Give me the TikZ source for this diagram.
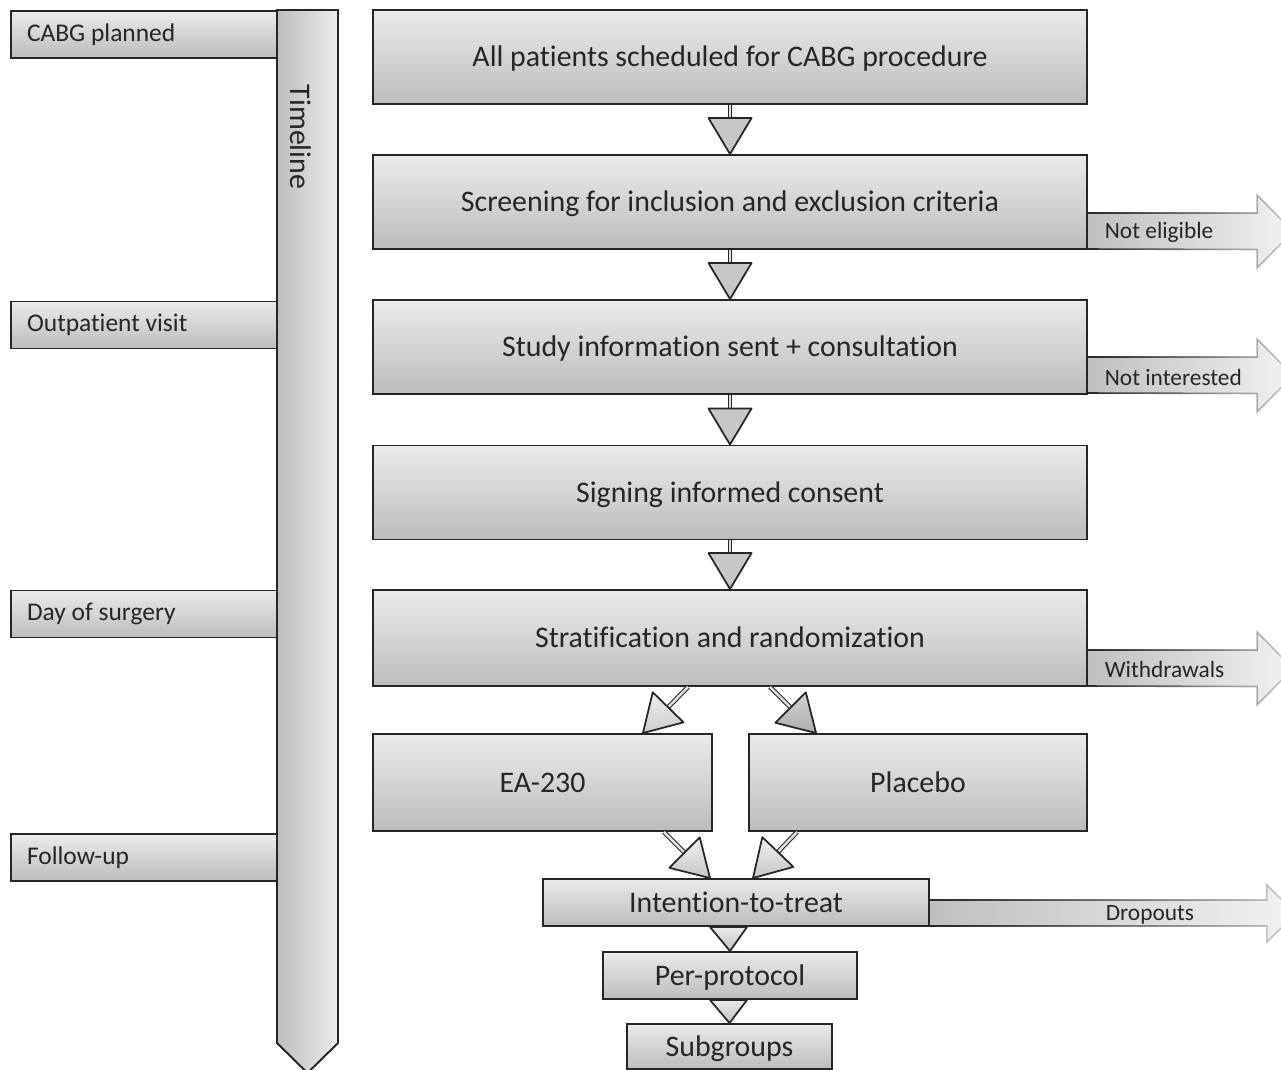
\documentclass[tikz,border=0pt]{standalone}
\usepackage{fontspec}
\setmainfont{Carlito}[Ligatures=NoCommon]
\usetikzlibrary{calc,fadings}
\tikzfading[name=fadeR, left color=transparent!0, right color=transparent!80]
\begin{document}
\begin{tikzpicture}[x=0.02cm,y=-0.02cm,
  line width=1.1pt,
  mainbox/.style={draw=black!85, top color=black!8, bottom color=black!26, minimum width=14.28cm, minimum height=1.88cm, inner sep=0pt, text=black!85, font=\fontsize{17pt}{20pt}\selectfont, text height=14pt, text depth=3pt},
  lblbox/.style={draw=black!85, top color=black!8, bottom color=black!26, text width=4.68cm, inner xsep=0.32cm, inner ysep=0pt, minimum height=0.94cm, align=flush left, text=black!85, font=\fontsize{14.5pt}{17pt}\selectfont},
  sidearrow/.style={draw=black!85, fill=black!25, path fading=fadeR, line width=0.9pt},
  sidetext/.style={text=black!85, font=\fontsize{13.3pt}{15pt}\selectfont, inner sep=0pt},
  stem/.style={draw=black!85, double=black!12, double distance=0.05cm, line width=0.6pt},
  head/.style={draw=black!85, line join=round, line width=1pt},
]
\useasboundingbox (0,0) rectangle (1281,1069);
\begin{scope}
\clip (0,0) rectangle (1281,1069);

% timeline
\draw[draw=black!85, left color=black!26, right color=black!7] (277,10) -- (338,10) -- (338,1043) -- (307.5,1073) -- (277,1043) -- cycle;
\node[rotate=-90, text=black!85, font=\fontsize{17pt}{20pt}\selectfont] (tl) at (301,137) {Timeline};

% timeline labels
\node[lblbox] (l1) at (144,34.5) {CABG planned};
\node[lblbox] (l2) at (144,325) {Outpatient visit};
\node[lblbox] (l3) at (144,614) {Day of surgery};
\node[lblbox] (l4) at (144,857.5) {Follow-up};

% side arrows
\draw[sidearrow] (1087,249) coordinate (sa1) -- ++(0,-36) -- ++(170,0) -- ++(0,-18) -- ++(36,36.5) -- ++(-36,36.5) -- ++(0,-18.5) -- cycle;
\draw[sidearrow] (1087,393) coordinate (sa2) -- ++(0,-36) -- ++(170,0) -- ++(0,-18) -- ++(36,36.5) -- ++(-36,36.5) -- ++(0,-18.5) -- cycle;
\draw[sidearrow] (1087,686) coordinate (sa3) -- ++(0,-36) -- ++(170,0) -- ++(0,-18) -- ++(36,36.5) -- ++(-36,36.5) -- ++(0,-18.5) -- cycle;
\draw[sidearrow] (929,926) coordinate (sa4) -- ++(0,-26) -- ++(338,0) -- ++(0,-15) -- ++(29,28.5) -- ++(-29,28.5) -- ++(0,-16) -- cycle;

% main boxes
\node[mainbox] (all) at (730,57) {All patients scheduled for CABG procedure};
\node[mainbox] (scr) at (730,202) {Screening for inclusion and exclusion criteria};
\node[mainbox] (inf) at (730,347) {Study information sent + consultation};
\node[mainbox] (sig) at (730,492.5) {Signing informed consent};
\node[mainbox, minimum height=1.92cm] (str) at (730,638) {Stratification and randomization};
\node[mainbox, minimum width=6.78cm, minimum height=1.94cm] (ea) at (542.5,782.5) {EA-230};
\node[mainbox, minimum width=6.76cm, minimum height=1.94cm] (pla) at (918,782.5) {Placebo};
\node[mainbox, minimum width=7.72cm, minimum height=0.94cm] (itt) at (736,902.5) {Intention-to-treat};
\node[mainbox, minimum width=5.08cm, minimum height=0.94cm] (pp) at (730,975.5) {Per-protocol};
\node[mainbox, minimum width=4.1cm, minimum height=0.9cm] (sub) at (729.5,1046.5) {Subgroups};

% side labels
\node[sidetext, anchor=west] (ne) at ($(scr.south east)+(16,-18)$) {Not eligible};
\node[sidetext, anchor=west] (ni) at ($(inf.south east)+(16,-17)$) {Not interested};
\node[sidetext, anchor=west] (wd) at ($(str.south east)+(16,-17)$) {Withdrawals};
\node[sidetext] (dr) at ($(itt.south east)+(220,-12)$) {Dropouts};

% block arrows
\newcommand\blkarrow[3]{%
  \coordinate (ba-h) at ($(#2)!0.72cm!(#1)$);
  \draw[stem] (#1) -- (ba-h);
  \draw[head,#3] (#2) -- ($(ba-h)!0.43cm!90:(#2)$) -- ($(ba-h)!0.43cm!-90:(#2)$) -- cycle;
}
\blkarrow{all.south}{scr.north}{fill=black!22}
\blkarrow{scr.south}{inf.north}{fill=black!22}
\blkarrow{inf.south}{sig.north}{fill=black!22}
\blkarrow{sig.south}{str.north}{fill=black!22}
\coordinate (d1a) at ($(str.south)+(-42,0)$);
\coordinate (d1b) at ($(ea.north east)+(-70,0)$);
\coordinate (d2a) at ($(str.south)+(40,0)$);
\coordinate (d2b) at ($(pla.north west)+(68,0)$);
\coordinate (d3a) at ($(ea.south east)+(-49,0)$);
\coordinate (d3b) at ($(itt.north)+(-26,0)$);
\coordinate (d4a) at ($(pla.south west)+(49,0)$);
\coordinate (d4b) at ($(itt.north)+(17,0)$);
\blkarrow{d1a}{d1b}{top color=black!6, bottom color=black!20}
\blkarrow{d2a}{d2b}{top color=black!18, bottom color=black!32}
\blkarrow{d3a}{d3b}{top color=black!6, bottom color=black!22}
\blkarrow{d4a}{d4b}{top color=black!6, bottom color=black!22}

\draw[head, top color=black!8, bottom color=black!24] (pp.north) -- ($(pp.north |- itt.south)+(17,0)$) -- ($(pp.north |- itt.south)+(-20,0)$) -- cycle;
\draw[head, top color=black!8, bottom color=black!24] (sub.north) -- ($(sub.north |- pp.south)+(17.5,0)$) -- ($(sub.north |- pp.south)+(-19.5,0)$) -- cycle;
\end{scope}
\end{tikzpicture}
\end{document}
